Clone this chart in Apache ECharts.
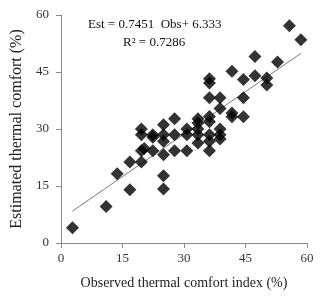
<!DOCTYPE html>
<html>
<head>
<meta charset="utf-8">
<script src="https://cdn.jsdelivr.net/npm/echarts@6/dist/echarts.min.js"></script>
<style>
  html, body { margin: 0; padding: 0; background: #fff; }
  #chart { width: 333px; height: 296px; }
</style>
</head>
<body>
<div id="chart"></div>
<script>
// observed / estimated pairs
var observed = [2.8, 11.0, 13.7, 16.8, 16.8, 19.6, 19.6, 20.3, 19.6, 19.6,
    22.4, 22.4, 22.4, 25.0, 25.0, 25.0, 25.0, 25.0, 25.0, 27.7,
    27.7, 27.7, 30.7, 30.7, 30.7, 33.4, 33.4, 33.4, 33.4, 33.4,
    36.2, 36.2, 36.2, 36.2, 36.2, 36.2, 36.2, 36.2, 38.8, 38.8,
    38.8, 38.8, 38.8, 41.7, 41.7, 41.7, 44.5, 44.5, 44.5, 47.3,
    47.3, 50.2, 50.2, 52.8, 55.7, 58.5]
var estimated = [4.0, 9.6, 18.2, 14.0, 21.3, 21.3, 24.3, 24.9, 28.5, 30.0,
    28.5, 27.8, 24.3, 31.1, 28.5, 26.8, 23.2, 17.7, 14.2, 32.7,
    28.5, 24.3, 30.0, 28.5, 24.3, 32.7, 31.6, 30.0, 28.5, 26.3,
    43.2, 42.1, 38.2, 33.3, 31.9, 28.5, 26.8, 24.3, 38.2, 35.4,
    30.0, 28.5, 27.4, 45.2, 34.2, 33.2, 43.0, 38.2, 33.2, 49.1,
    44.0, 43.4, 41.6, 47.6, 57.2, 53.5]
// trend line ends (Est = 0.7451 Obs + 6.333)
var trendObs = [2.8, 58.5]
var trendEst = [8.4, 49.9]
var ticks = [0, 15, 30, 45, 60]

var points = observed.map(function (v, i) { return [v, estimated[i]] })
var trend = trendObs.map(function (v, i) { return [v, trendEst[i]] })

var font = 'Liberation Serif'
var chart = echarts.init(document.getElementById('chart'))
var option = {
    animation: false,
    grid: {
        left: 61,
        right: 26,
        top: 15,
        bottom: 53
    },
    xAxis: {
        type: 'value',
        min: ticks[0],
        max: ticks[ticks.length - 1],
        interval: 15,
        name: 'Observed thermal comfort index (%)',
        nameLocation: 'middle',
        nameGap: 33,
        nameTextStyle: { fontFamily: font, fontSize: 14, color: '#222' },
        axisLine: { lineStyle: { color: '#8a8a8a', width: 1 } },
        axisTick: { show: true, length: 5, lineStyle: { color: '#8a8a8a' } },
        axisLabel: { fontFamily: font, fontSize: 13, color: '#333', margin: 9 },
        splitLine: { show: false }
    },
    yAxis: {
        type: 'value',
        min: ticks[0],
        max: ticks[ticks.length - 1],
        interval: 15,
        name: 'Estimated thermal comfort (%)',
        nameLocation: 'middle',
        nameGap: 31,
        nameTextStyle: { fontFamily: font, fontSize: 16, color: '#222' },
        axisLine: { show: true, lineStyle: { color: '#8a8a8a', width: 1 } },
        axisTick: { show: true, length: 5, lineStyle: { color: '#8a8a8a' } },
        axisLabel: { fontFamily: font, fontSize: 13, color: '#333', margin: 12 },
        splitLine: { show: false }
    },
    graphic: [
        {
            type: 'text',
            left: 88,
            top: 18,
            style: { text: 'Est = 0.7451  Obs+ 6.333', font: '13px "Liberation Serif"', fill: '#111' }
        },
        {
            type: 'text',
            left: 123,
            top: 36,
            style: { text: 'R² = 0.7286', font: '13px "Liberation Serif"', fill: '#111' }
        }
    ],
    series: [
        {
            type: 'line',
            data: trend,
            symbol: 'none',
            lineStyle: { color: '#7a7a7a', width: 1 },
            z: 1
        },
        {
            type: 'scatter',
            data: points,
            symbol: 'diamond',
            symbolSize: 13,
            itemStyle: { color: '#000' },
            z: 2
        }
    ]
}
chart.setOption(option)
</script>
</body>
</html>
